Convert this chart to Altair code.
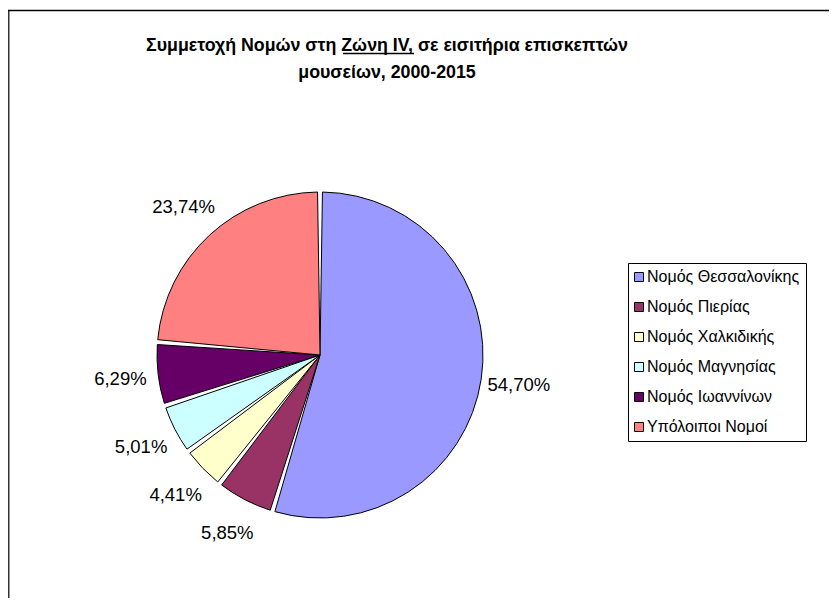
import altair as alt
import pandas as pd

categories = ["Νομός Θεσσαλονίκης", "Νομός Πιερίας", "Νομός Χαλκιδικής",
              "Νομός Μαγνησίας", "Νομός Ιωαννίνων", "Υπόλοιποι Νομοί"]
shares = [54.70, 5.85, 4.41, 5.01, 6.29, 23.74]
colors = ["#9999FF", "#993366", "#FFFFCC", "#CCFFFF", "#660066", "#FF8080"]
title_lines = ["Συμμετοχή Νομών στη Ζώνη IV, σε εισιτήρια επισκεπτών",
               "μουσείων, 2000-2015"]

df = pd.DataFrame({
    "category": categories,
    "value": shares,
    "idx": list(range(len(categories))),
    "label": [f"{v:.2f}".replace(".", ",") + "%" for v in shares],
})

FONT = "Liberation Sans"
CX, CY, R = 312, 347, 163

base = alt.Chart(df)

theta = alt.Theta("value:Q", stack=True)
order = alt.Order("idx:Q", sort="ascending")

pie = base.mark_arc(outerRadius=R, padAngle=0.03, stroke="black", strokeWidth=1).encode(
    theta=theta,
    order=order,
    x=alt.value(CX),
    y=alt.value(CY),
    color=alt.Color(
        "category:N",
        scale=alt.Scale(domain=categories, range=colors),
        sort=categories,
        legend=alt.Legend(
            title=None,
            orient="none",
            legendX=620,
            legendY=255,
            direction="vertical",
            symbolType="square",
            symbolSize=81,
            symbolStrokeColor="black",
            symbolStrokeWidth=1,
            symbolOpacity=1,
            symbolOffset=-3,
            labelFont=FONT,
            labelFontSize=16,
            labelColor="black",
            labelOffset=0,
            labelLimit=400,
            rowPadding=14,
            padding=6,
            strokeColor="black",
            fillColor="white",
        ),
    ),
)

labels = base.mark_text(radius=R + 38, font=FONT, fontSize=18.5, color="black").encode(
    theta=theta,
    order=order,
    x=alt.value(CX),
    y=alt.value(CY),
    text="label:N",
)

title = alt.Chart(pd.DataFrame({"t": [title_lines]})).mark_text(
    font=FONT, fontSize=17.8, fontWeight="bold", baseline="top", align="center",
    lineHeight=27, color="black"
).encode(x=alt.value(379), y=alt.value(29), text="t")

underline = alt.Chart(pd.DataFrame({"a": [0]})).mark_rule(color="black", strokeWidth=1.3).encode(
    x=alt.value(335), x2=alt.value(406), y=alt.value(45.5), y2=alt.value(45.5)
)

frame_left = alt.Chart(pd.DataFrame({"a": [0]})).mark_rule(color="#333333", strokeWidth=2).encode(
    x=alt.value(0.5), y=alt.value(2), y2=alt.value(600)
)
frame_top = alt.Chart(pd.DataFrame({"a": [0]})).mark_rule(color="black", strokeWidth=1.5).encode(
    x=alt.value(0), x2=alt.value(830), y=alt.value(2.5)
)

chart = alt.layer(frame_left, frame_top, pie, labels, title, underline).properties(
    width=821, height=590, autosize="none", padding=0
).configure_view(stroke=None)

chart.save("out.html", embed_options={"renderer": "svg", "actions": False})
